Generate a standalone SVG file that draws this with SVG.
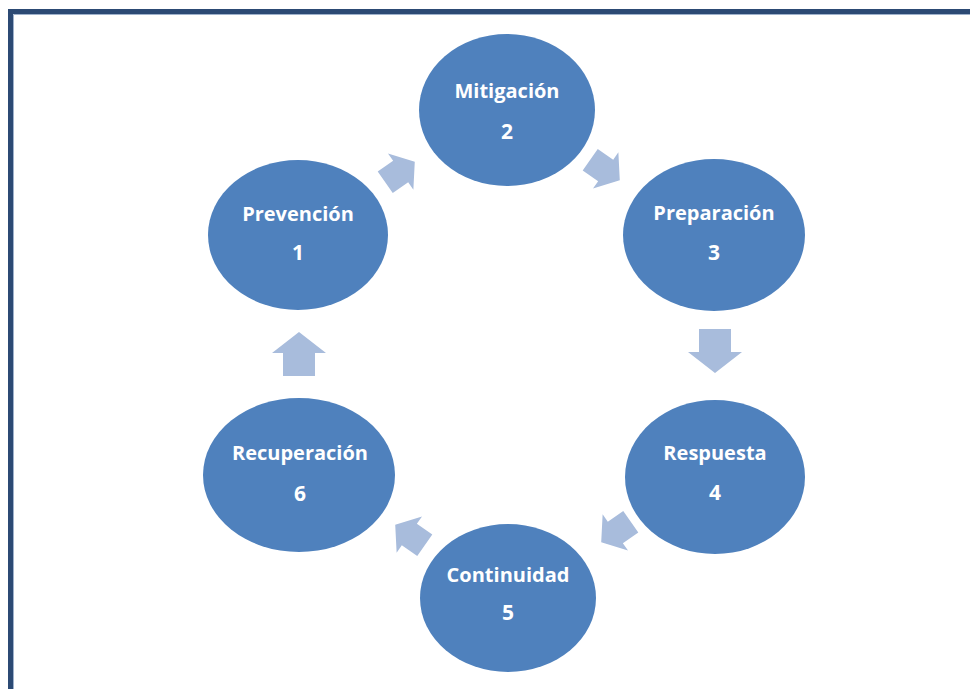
<svg xmlns="http://www.w3.org/2000/svg" width="970" height="689" viewBox="0 0 970 689">
<style>
.node{fill:#4f81bd;}
.lbl{font-family:"Open Sans","Liberation Sans",sans-serif;font-weight:bold;font-size:20px;fill:#ffffff;text-anchor:middle;}
.num{font-size:21px;}
.arr{fill:#a8bcdc;}
</style>
<defs>
<path id="ar" d="M-22,-16 L1,-16 L1,-27 L22,0 L1,27 L1,16 L-22,16 Z"/>
</defs>
<rect width="970" height="689" fill="#ffffff"/>
<path d="M10.5,689 L10.5,11.5 L975,11.5" fill="none" stroke="#2c4a74" stroke-width="5"/>
<path d="M13.5,689 L13.5,14.5 L975,14.5" fill="none" stroke="#9fb2cc" stroke-width="1"/>
<g id="connectors">
<use href="#ar" class="arr" transform="translate(400,172) rotate(-35) scale(0.82)"/>
<use href="#ar" class="arr" transform="translate(605,170) rotate(35) scale(0.82)"/>
<use href="#ar" class="arr" transform="translate(715,351) rotate(90)"/>
<use href="#ar" class="arr" transform="translate(616,532) rotate(145) scale(0.82)"/>
<use href="#ar" class="arr" transform="translate(410,535) rotate(215) scale(0.82)"/>
<use href="#ar" class="arr" transform="translate(299,354) rotate(-90)"/>
</g>
<g id="n2"><ellipse class="node" cx="507" cy="110" rx="88" ry="76"/><text class="lbl" x="507" y="98">Mitigación</text><text class="lbl num" x="507" y="139">2</text></g>
<g id="n3"><ellipse class="node" cx="714" cy="235" rx="91" ry="76"/><text class="lbl" x="714" y="220">Preparación</text><text class="lbl num" x="714" y="260">3</text></g>
<g id="n4"><ellipse class="node" cx="715" cy="477" rx="90" ry="77"/><text class="lbl" x="715" y="460">Respuesta</text><text class="lbl num" x="715" y="500">4</text></g>
<g id="n5"><ellipse class="node" cx="508" cy="598" rx="88" ry="74"/><text class="lbl" x="508" y="582">Continuidad</text><text class="lbl num" x="508" y="620">5</text></g>
<g id="n6"><ellipse class="node" cx="299" cy="475" rx="96" ry="77"/><text class="lbl" x="300" y="460">Recuperación</text><text class="lbl num" x="300" y="501">6</text></g>
<g id="n1"><ellipse class="node" cx="298" cy="235" rx="90" ry="75"/><text class="lbl" x="298" y="221">Prevención</text><text class="lbl num" x="298" y="260">1</text></g>
</svg>
